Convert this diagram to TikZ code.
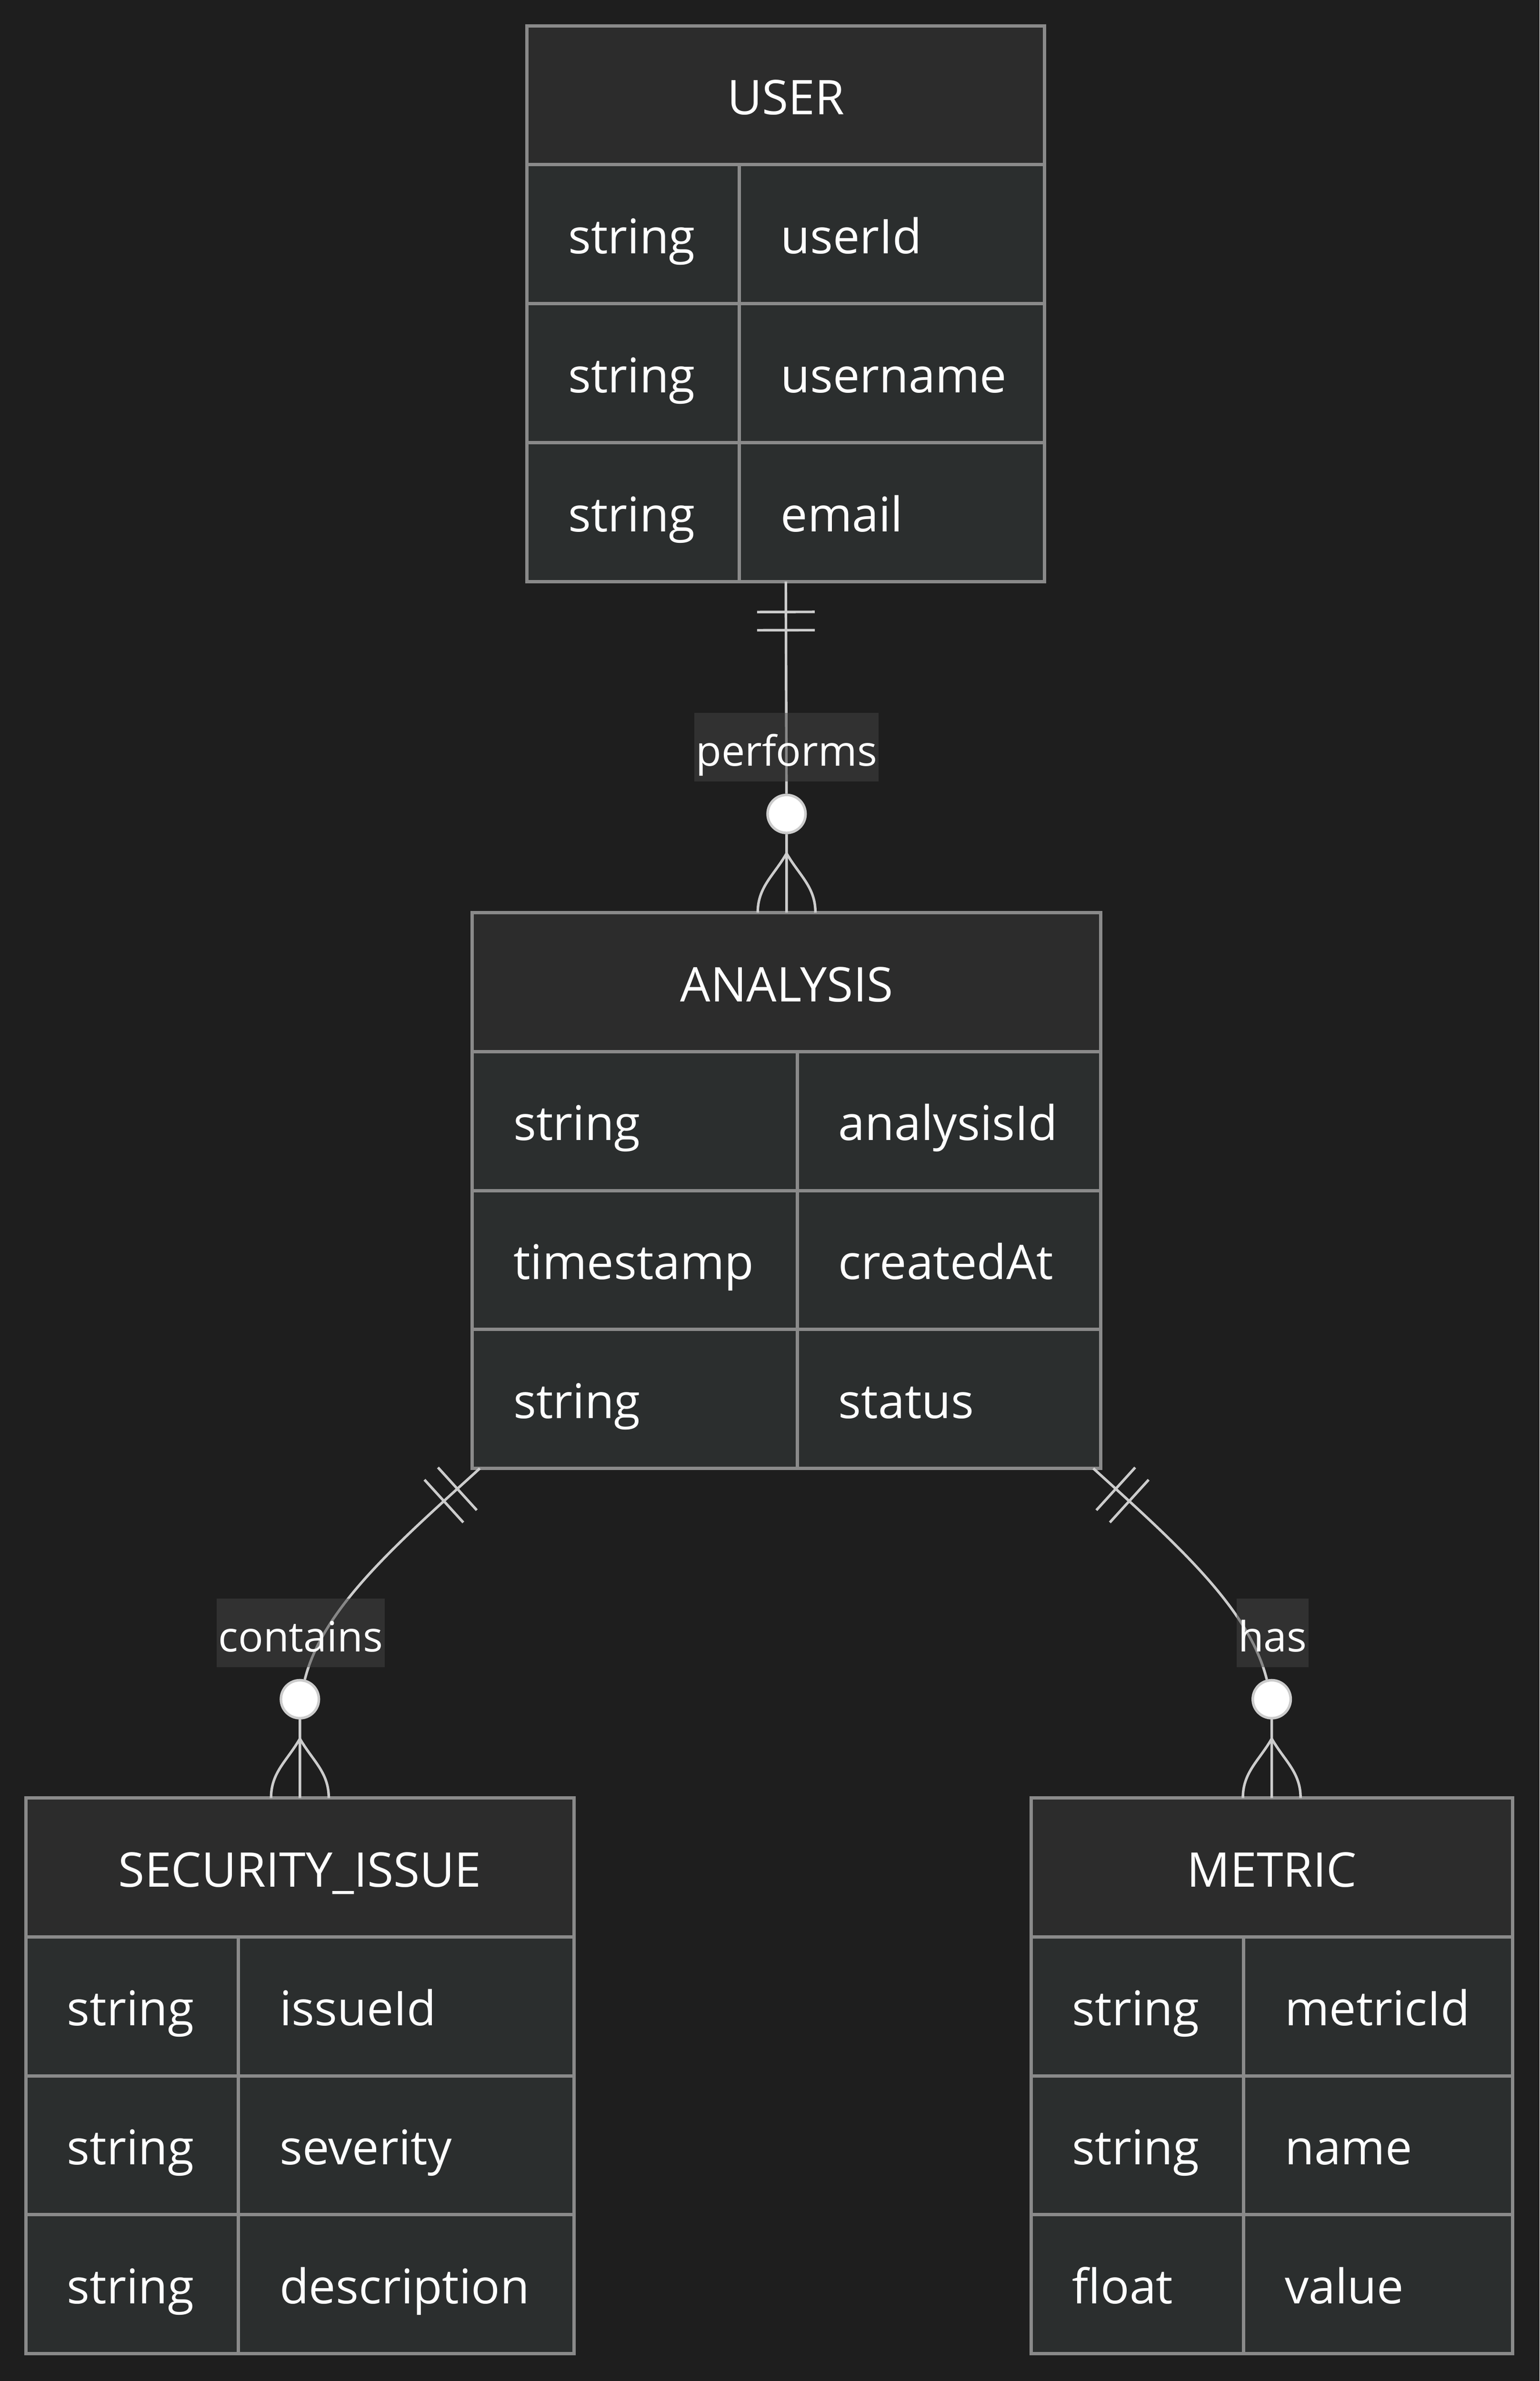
\documentclass[tikz,border=0pt]{standalone}
\usepackage{fontspec}
\setmainfont{Open Sans}
\usetikzlibrary{calc}

\definecolor{bgdark}{HTML}{1E1E1E}
\definecolor{headfill}{HTML}{2C2C2C}
\definecolor{rowfill}{HTML}{2B2E2E}
\definecolor{frameline}{HTML}{8A8A8A}
\definecolor{relline}{HTML}{CCCCCC}
\definecolor{lblfill}{HTML}{444444}

\tikzset{
  entity/.style={fill=rowfill, inner sep=0pt, outer sep=0pt, minimum height=366pt},
  boxline/.style={draw=frameline, line width=2.2pt},
  enttitle/.style={text=white, font=\fontsize{31.5}{36}\selectfont, text height=25.5pt, text depth=0pt, inner sep=0pt},
  attr/.style={enttitle, anchor=west},
  rel/.style={draw=relline, line width=1.7pt},
  optdot/.style={circle, fill=white, draw=relline, line width=1.7pt, minimum size=25pt, inner sep=0pt},
  lbl/.style={fill=lblfill, fill opacity=0.5, text opacity=1, text=white, font=\fontsize{27.5}{31}\selectfont, text height=25pt, text depth=0pt, inner xsep=1pt, inner ysep=10pt}
}

\begin{document}
\begin{tikzpicture}[x=1pt, y=1pt]
\fill[bgdark] (0,0) rectangle (1014,-1568);

% USER
\node[entity, minimum width=341pt] (user) at (517.5,-200) {};
\fill[headfill] (347,-17) rectangle (688,-108.5);
\draw[boxline] (347,-108.5) -- (688,-108.5);
\draw[boxline] (347,-200) -- (688,-200);
\draw[boxline] (347,-291.5) -- (688,-291.5);
\draw[boxline] (487,-108.5) -- (487,-383);
\draw[boxline] (user.north west) rectangle (user.south east);
\node[enttitle] (userH) at (517.5,-62.75) {USER};
\node[attr] (userT1) at (374,-154.25) {string};
\node[attr] (userN1) at (514,-154.25) {userId};
\node[attr] (userT2) at (374,-245.75) {string};
\node[attr] (userN2) at (514,-245.75) {username};
\node[attr] (userT3) at (374,-337.25) {string};
\node[attr] (userN3) at (514,-337.25) {email};

% ANALYSIS
\node[entity, minimum width=414pt] (ana) at (518,-784) {};
\fill[headfill] (311,-601) rectangle (725,-692.5);
\draw[boxline] (311,-692.5) -- (725,-692.5);
\draw[boxline] (311,-784) -- (725,-784);
\draw[boxline] (311,-875.5) -- (725,-875.5);
\draw[boxline] (525,-692.5) -- (525,-967);
\draw[boxline] (ana.north west) rectangle (ana.south east);
\node[enttitle] (anaH) at (518,-646.75) {ANALYSIS};
\node[attr] (anaT1) at (338,-738.25) {string};
\node[attr] (anaN1) at (552,-738.25) {analysisId};
\node[attr] (anaT2) at (338,-829.75) {timestamp};
\node[attr] (anaN2) at (552,-829.75) {createdAt};
\node[attr] (anaT3) at (338,-921.25) {string};
\node[attr] (anaN3) at (552,-921.25) {status};

% SECURITY_ISSUE
\node[entity, minimum width=361pt] (sec) at (197.5,-1367) {};
\fill[headfill] (17,-1184) rectangle (378,-1275.5);
\draw[boxline] (17,-1275.5) -- (378,-1275.5);
\draw[boxline] (17,-1367) -- (378,-1367);
\draw[boxline] (17,-1458.5) -- (378,-1458.5);
\draw[boxline] (157,-1275.5) -- (157,-1550);
\draw[boxline] (sec.north west) rectangle (sec.south east);
\node[enttitle] (secH) at (197.5,-1229.75) {SECURITY\_ISSUE};
\node[attr] (secT1) at (44,-1321.25) {string};
\node[attr] (secN1) at (184,-1321.25) {issueId};
\node[attr] (secT2) at (44,-1412.75) {string};
\node[attr] (secN2) at (184,-1412.75) {severity};
\node[attr] (secT3) at (44,-1504.25) {string};
\node[attr] (secN3) at (184,-1504.25) {description};

% METRIC
\node[entity, minimum width=317pt] (met) at (837.5,-1367) {};
\fill[headfill] (679,-1184) rectangle (996,-1275.5);
\draw[boxline] (679,-1275.5) -- (996,-1275.5);
\draw[boxline] (679,-1367) -- (996,-1367);
\draw[boxline] (679,-1458.5) -- (996,-1458.5);
\draw[boxline] (819,-1275.5) -- (819,-1550);
\draw[boxline] (met.north west) rectangle (met.south east);
\node[enttitle] (metH) at (837.5,-1229.75) {METRIC};
\node[attr] (metT1) at (706,-1321.25) {string};
\node[attr] (metN1) at (846,-1321.25) {metricId};
\node[attr] (metT2) at (706,-1412.75) {string};
\node[attr] (metN2) at (846,-1412.75) {name};
\node[attr] (metT3) at (706,-1504.25) {float};
\node[attr] (metN3) at (846,-1504.25) {value};

% performs
\node[optdot] (perDot) at ([yshift=65pt]ana.north) {};
\draw[rel] (user.south) -- (perDot) -- (ana.north);
\draw[rel] ($(user.south)!20pt!(ana.north)!19pt!90:(ana.north)$) -- ($(user.south)!20pt!(ana.north)!19pt!-90:(ana.north)$);
\draw[rel] ($(user.south)!32pt!(ana.north)!19pt!90:(ana.north)$) -- ($(user.south)!32pt!(ana.north)!19pt!-90:(ana.north)$);
\draw[rel] ([xshift=-19pt]ana.north) to[out=90,in=-120] ([yshift=39pt]ana.north) to[out=-60,in=90] ([xshift=19pt]ana.north);
\node[lbl] (perL) at (518,-492) {performs};

% contains
\coordinate (conA) at ([xshift=5pt]ana.south west);
\coordinate (conB) at ($(conA)+(-55,-50)$);
\node[optdot] (conDot) at ([yshift=65pt]sec.north) {};
\draw[rel] (conA) .. controls (conB) and +(15,60) .. (conDot) -- (sec.north);
\draw[rel] ($(conA)!20pt!(conB)!19pt!90:(conB)$) -- ($(conA)!20pt!(conB)!19pt!-90:(conB)$);
\draw[rel] ($(conA)!32pt!(conB)!19pt!90:(conB)$) -- ($(conA)!32pt!(conB)!19pt!-90:(conB)$);
\draw[rel] ([xshift=-19pt]sec.north) to[out=90,in=-120] ([yshift=39pt]sec.north) to[out=-60,in=90] ([xshift=19pt]sec.north);
\node[lbl] (conL) at (198,-1075.3) {contains};

% has
\coordinate (hasA) at ([xshift=-5pt]ana.south east);
\coordinate (hasB) at ($(hasA)+(55,-50)$);
\node[optdot] (hasDot) at ([yshift=65pt]met.north) {};
\draw[rel] (hasA) .. controls (hasB) and +(-15,60) .. (hasDot) -- (met.north);
\draw[rel] ($(hasA)!20pt!(hasB)!19pt!90:(hasB)$) -- ($(hasA)!20pt!(hasB)!19pt!-90:(hasB)$);
\draw[rel] ($(hasA)!32pt!(hasB)!19pt!90:(hasB)$) -- ($(hasA)!32pt!(hasB)!19pt!-90:(hasB)$);
\draw[rel] ([xshift=-19pt]met.north) to[out=90,in=-120] ([yshift=39pt]met.north) to[out=-60,in=90] ([xshift=19pt]met.north);
\node[lbl] (hasL) at (838,-1075.3) {has};
\end{tikzpicture}
\end{document}
